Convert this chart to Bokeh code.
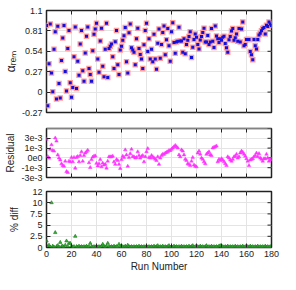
import math
from bokeh.plotting import figure
from bokeh.layouts import column
from bokeh.models import FixedTicker, Range1d, ColumnDataSource
from bokeh.embed import file_html
from bokeh.resources import INLINE

# ---------------- data ----------------
alpha_rem = [
    0.90, -0.18, 0.385, 0.92, 0.26, 0.01, 0.58, 0.815, -0.09, 0.89,
    0.12, -0.076, 0.43, 0.73, 0.90, 0.28, 0.02, 0.59, 0.83, 0.13,
    -0.065, 0.066, 0.48, 0.88, 0.053, 0.42, 0.23, 0.65, 0.83, 0.29,
    0.15, 0.53, 0.755, 0.88, 0.32, 0.24, 0.15, 0.56, 0.78, 0.85,
    0.93, 0.45, 0.27, 0.69, 0.86, 0.35, 0.21,
    0.58, 0.93, 0.20, 0.59, 0.62, 0.65, 0.48, 0.32, 0.68, 0.83,
    0.37, 0.24, 0.57, 0.62, 0.70, 0.76, 0.87, 0.41, 0.26, 0.80,
    0.92, 0.60, 0.57, 0.54, 0.37, 0.72, 0.86, 0.59, 0.51, 0.45,
    0.32, 0.64, 0.83, 0.93, 0.55, 0.72, 0.45, 0.58, 0.41, 0.78,
    0.45, 0.31, 0.66, 0.85,
    0.46, 0.643, 0.806, 0.893, 0.505, 0.707, 0.858, 0.626, 0.419, 0.815,
    0.936, 0.669, 0.527, 0.677, 0.686, 0.875, 0.69, 0.69, 0.54, 0.72,
    0.52, 0.643, 0.699, 0.75, 0.815, 0.47, 0.608, 0.71, 0.785, 0.742,
    0.643, 0.582, 0.703, 0.75, 0.806, 0.862, 0.677, 0.677, 0.763, 0.643,
    0.677, 0.858, 0.686, 0.604, 0.893, 0.759,
    0.72, 0.669, 0.72, 0.699, 0.742, 0.755, 0.656, 0.60, 0.54, 0.707,
    0.75, 0.824, 0.858, 0.699, 0.733, 0.785, 0.686, 0.858, 0.677, 0.85,
    0.944, 0.626, 0.643, 0.71, 0.71, 0.71, 0.548, 0.505, 0.44, 0.71,
    0.626, 0.582, 0.71, 0.772, 0.794, 0.828, 0.858, 0.871, 0.785, 0.901,
    0.884, 0.944, 0.92, 0.90,
]

residual_e3 = [
    2.47, 0.0, -0.22, 1.04, 1.67, 0.86, 0.77, 2.65, 2.2, 0.23,
    -0.22, -0.49, -1.03, -1.3, -1.39, -0.67, -2.15, -2.28, -0.67, -0.76,
    -0.13, -0.76, -0.13, -1.66, -0.13, 0.0, -0.76, 0.14, 0.68, -0.67,
    0.14, 0.5, 0.68, 0.9, -0.89, -1.57, -0.44, -0.08, 0.05, 0.09,
    -0.98, -1.34, -1.03, -0.44, -1.48, -0.94, -1.21, -1.12, -1.66, -0.67,
    -0.04, -0.04, -0.04, 0.05, -0.76, -1.12, -0.44, -0.58, -1.12, -1.7,
    -0.44, 0.05, -0.13, 0.95, 0.23, -1.39, -0.13, 0.41, 1.04, 0.0,
    -0.04, -0.22, -0.13, 0.68, 0.14, -0.22, 0.0, 0.14, -0.76, -0.04,
    0.68, 1.13, -0.13, -0.22, 0.14, -0.04, -0.22, -0.4, -0.58, -0.04,
    -1.12, -0.22, 0.14, 0.32, 0.32, 0.5, 0.59, 0.68, 0.86, 0.86,
    1.04, 1.22, 1.4, 1.58, 1.4, 1.22, 0.23, -0.04, 0.95, 0.77,
    0.23, -0.4, -0.58, -1.03, -1.12, -1.3, -0.67, -0.13, -1.21, -1.39,
    -1.48, 0.5, 0.77, 0.32, -0.22, -0.4, -0.76, -1.03, 0.32, 0.5,
    0.68, 0.23, 0.14, 1.22, 1.31, 1.4, 1.49, -0.76, -0.4, -0.58,
    -0.31, -0.49, -0.76, -1.03, -1.3, -0.04, -0.22, -0.49, -0.67, -0.4,
    -0.04, 0.05, 0.32, -0.22, -0.04, 0.5, 0.77, 0.59, 0.32, 0.05,
    -0.31, -0.67, -1.3, -0.49, -0.4, -0.31, -0.04, 0.14, 0.5, -0.04,
    0.41, -0.22, -0.4, -0.67, -0.31, -0.31, 0.32, -0.22, -0.67, -0.49,
    -0.4,
]

pct_diff = [
    1.4, 0.2, 0.5, 0.1, 9.6, 0.3, 0.1, 3.2, 0.2, 0.4,
    0.1, 1.1, 0.2, 0.3, 0.1, 0.5, 1.4, 0.2, 0.9, 0.9,
    0.3, 0.1, 0.2, 2.4, 0.2, 0.1, 0.3, 0.1, 0.2, 0.1,
    0.2, 0.1, 0.3, 0.1, 0.2, 0.9, 0.2, 0.1, 0.2, 0.1,
    0.3, 0.1, 0.2, 0.1, 0.3, 0.7, 0.2, 0.1, 0.3, 0.9,
    0.2, 0.1, 0.2, 0.1, 0.3, 0.1, 0.2, 0.1, 0.7, 0.2,
    0.1, 0.2, 0.1, 0.3, 0.1, 0.5, 0.2, 0.1, 0.2, 0.1,
    0.2, 0.1, 0.2, 0.1, 0.3, 0.1, 0.2, 0.1, 0.2, 0.1,
    0.3, 0.1, 0.2, 0.1, 0.2, 0.1, 0.3, 0.1, 0.2, 0.4,
    0.1, 0.2, 0.1, 0.3, 0.1, 0.2, 0.1, 0.2, 0.4, 0.1,
    0.2, 0.1, 0.3, 0.1, 0.2, 0.1, 0.2, 0.1, 0.3, 0.1,
    0.2, 0.1, 0.2, 0.1, 0.3, 0.1, 0.2, 0.4, 0.1, 0.2,
    0.1, 0.2, 0.1, 0.3, 0.1, 0.2, 0.1, 0.2, 0.4, 0.1,
    0.2, 0.1, 0.3, 0.1, 0.2, 0.1, 0.2, 0.1, 0.3, 0.4,
    0.1, 0.2, 0.1, 0.2, 0.1, 0.3, 0.1, 0.2, 0.1, 0.2,
    0.1, 0.3, 0.1, 0.2, 0.1, 0.2, 0.1, 0.3, 0.1, 0.2,
    0.1, 0.2, 0.1, 0.3, 0.1, 0.2, 0.1, 0.2, 0.1, 0.3,
    0.1, 0.2, 0.1, 0.2, 0.1, 0.3, 0.1, 0.2, 0.1, 0.2,
    0.1,
]

x_ticks = [0, 20, 40, 60, 80, 100, 120, 140, 160, 180]
alpha_tick_labels = ["-0.27", "0", "0.27", "0.54", "0.81", "1.1"]
resid_tick_labels = ["-3e-3", "-1e-3", "0e0", "1e-3", "3e-3", "4e-3"]
diff_tick_labels = ["0", "2.5", "5", "7.5", "10", "12"]

runs_a = list(range(len(alpha_rem)))
runs_r = list(range(len(residual_e3)))
runs_d = list(range(len(pct_diff)))
residual = [v * 1e-3 for v in residual_e3]

FONT = "Liberation Sans"
FRAME = "#222222"
GRID = "#e4e4e4"
TXT = "#222222"
XLO, XHI = 0, 180


def even_ticks(lo, hi, n=6):
    return [lo + (hi - lo) * i / (n - 1) for i in range(n)]


def panel(height, btop, bbot, ylo, yhi, ylabels, ylabel, ylabel_size, ylabel_standoff, bottom_labels):
    p = figure(width=280, height=height, x_range=Range1d(XLO, XHI),
               y_range=Range1d(ylo, yhi), toolbar_location=None,
               output_backend="svg", min_border_left=44, min_border_right=9,
               min_border_top=btop, min_border_bottom=bbot)
    p.outline_line_color = FRAME
    p.outline_line_width = 1.5
    yt = even_ticks(ylo, yhi)
    ya = p.yaxis[0]
    ya.ticker = FixedTicker(ticks=yt)
    ya.major_label_overrides = {t: l for t, l in zip(yt, ylabels)}
    ya.axis_line_color = None
    ya.major_tick_in = 4
    ya.major_tick_out = 0
    ya.major_tick_line_color = FRAME
    ya.minor_tick_line_color = None
    ya.major_label_text_font = FONT
    ya.major_label_text_font_size = "9px"
    ya.major_label_text_color = TXT
    ya.major_label_standoff = 4
    ya.axis_label = ylabel
    ya.axis_label_text_font = FONT
    ya.axis_label_text_font_size = ylabel_size
    ya.axis_label_text_font_style = "normal"
    ya.axis_label_text_color = TXT
    ya.axis_label_standoff = ylabel_standoff

    xa = p.xaxis[0]
    if bottom_labels:
        xa.ticker = FixedTicker(ticks=x_ticks)
        xa.axis_line_color = None
        xa.major_tick_in = 4
        xa.major_tick_out = 0
        xa.major_tick_line_color = FRAME
        xa.minor_tick_line_color = None
        xa.major_label_text_font = FONT
        xa.major_label_text_font_size = "9px"
        xa.major_label_text_color = TXT
        xa.major_label_standoff = 3
    else:
        xa.visible = False
        # inward tick marks along the bottom edge
        p.ray(x=x_ticks, y=[ylo] * len(x_ticks), length=4, length_units="screen",
              angle=math.pi / 2, line_color=FRAME, line_width=1)
    # mirrored inward tick marks on top and right edges
    p.ray(x=x_ticks, y=[yhi] * len(x_ticks), length=4, length_units="screen",
          angle=-math.pi / 2, line_color=FRAME, line_width=1)
    p.ray(x=[XHI] * len(yt), y=yt, length=4, length_units="screen",
          angle=math.pi, line_color=FRAME, line_width=1)

    p.xgrid.ticker = FixedTicker(ticks=x_ticks)
    p.ygrid.ticker = FixedTicker(ticks=yt)
    p.grid.grid_line_color = GRID
    p.grid.grid_line_width = 1
    return p


# ---- top panel ----
p1 = panel(120, 10, 8, -0.27, 1.1, alpha_tick_labels, "α\u1d63\u2091\u2098", "12px", 1, False)
src_a = ColumnDataSource(dict(x=runs_a, y=alpha_rem))
p1.scatter("x", "y", source=src_a, marker="square", size=5.5,
           fill_color="#ff9c9c", line_color=None)
p1.scatter("x", "y", source=src_a, marker="square", size=3,
           fill_color="#1010e0", line_color=None)

# ---- middle panel ----
p2 = panel(65, 8, 8, -3e-3, 4e-3, resid_tick_labels, "Residual", "10px", 2, False)
p2.scatter(runs_r, residual, marker="triangle", size=3.5,
           fill_color="#ff33ff", line_color="#ff33ff", line_width=0.5)

# ---- bottom panel ----
p3 = panel(89, 6, 27, 0, 12, diff_tick_labels, "% diff", "10px", 7, True)
p3.scatter(runs_d, pct_diff, marker="triangle", size=3.5,
           fill_color="#33b033", line_color="#1a7a1a", line_width=0.6)
bx = p3.below[0]
bx.axis_label = "Run Number"
bx.axis_label_text_font = FONT
bx.axis_label_text_font_size = "10px"
bx.axis_label_text_font_style = "normal"
bx.axis_label_text_color = TXT
bx.axis_label_standoff = 1

layout = column(p1, p2, p3, spacing=0)
open("out.html", "w").write(file_html(layout, INLINE))
